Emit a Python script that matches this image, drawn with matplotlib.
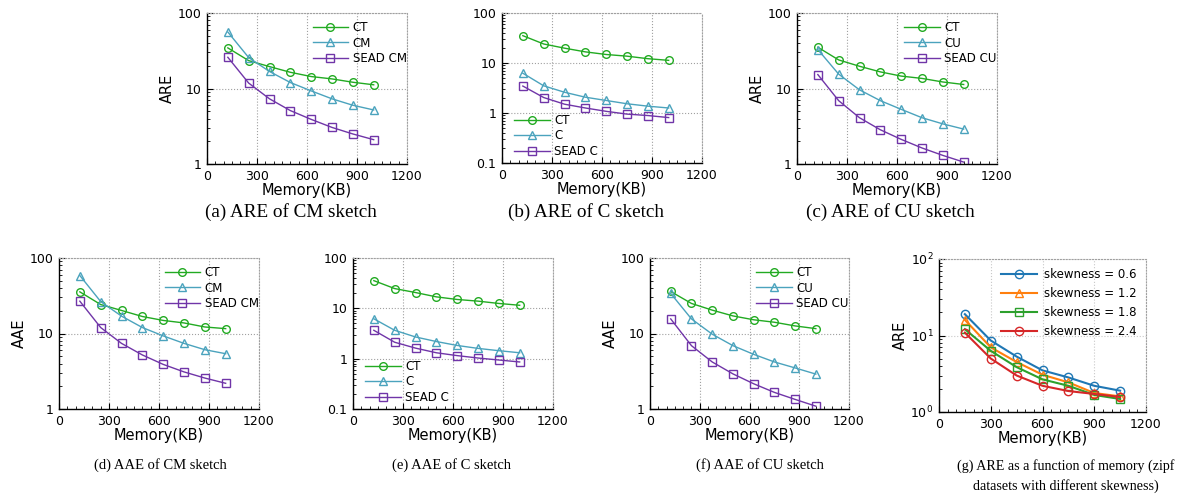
import numpy as np
import matplotlib
matplotlib.use("Agg")
import matplotlib.pyplot as plt
from matplotlib.ticker import MultipleLocator, LogLocator, NullFormatter, FixedLocator

# Datos
mem = [125, 250, 375, 500, 625, 750, 875, 1000]
mem_g = [150, 300, 450, 600, 750, 900, 1050]

are_cm_ct = [34.5, 23.4, 19.5, 16.4, 14.4, 13.4, 12.1, 11.2]
are_cm = [56, 25.7, 16.8, 12.0, 9.3, 7.3, 6.0, 5.2]
are_cm_sead = [25.9, 11.8, 7.3, 5.1, 3.9, 3.05, 2.5, 2.1]

are_c_ct = [35.2, 24, 19.8, 16.7, 14.8, 13.7, 12.2, 11.3]
are_c = [6.25, 3.5, 2.6, 2.07, 1.78, 1.53, 1.37, 1.26]
are_c_sead = [3.46, 2.04, 1.5, 1.26, 1.08, 0.95, 0.89, 0.81]

are_cu_ct = [35.2, 23.9, 19.7, 16.6, 14.6, 13.6, 12.2, 11.3]
are_cu = [32.8, 15.5, 9.6, 6.9, 5.3, 4.1, 3.4, 2.9]
are_cu_sead = [15.3, 6.9, 4.1, 2.84, 2.12, 1.63, 1.3, 1.06]

aae_cm_ct = [35.6, 24.2, 20.2, 16.8, 14.9, 13.8, 12.2, 11.6]
aae_cm = [58.6, 26.5, 17, 12, 9.3, 7.4, 6.1, 5.4]
aae_cm_sead = [26.8, 12, 7.4, 5.2, 3.9, 3.1, 2.57, 2.19]

aae_c_ct = [35.5, 24.7, 20.6, 16.9, 15, 13.9, 12.5, 11.5]
aae_c = [6.2, 3.66, 2.7, 2.19, 1.83, 1.6, 1.44, 1.31]
aae_c_sead = [3.66, 2.12, 1.62, 1.31, 1.15, 1.03, 0.94, 0.86]

aae_cu_ct = [36, 25, 20.4, 17.1, 15.2, 14.1, 12.6, 11.6]
aae_cu = [33.9, 15.6, 9.8, 6.9, 5.3, 4.2, 3.5, 2.9]
aae_cu_sead = [15.6, 6.9, 4.2, 2.92, 2.16, 1.66, 1.34, 1.09]

skew_labels = ["skewness = 0.6", "skewness = 1.2", "skewness = 1.8", "skewness = 2.4"]
skew_06 = [19, 8.6, 5.3, 3.5, 2.83, 2.2, 1.9]
skew_12 = [16, 7.0, 4.5, 3.07, 2.44, 1.77, 1.6]
skew_18 = [12.1, 6.3, 3.86, 2.67, 2.2, 1.67, 1.48]
skew_24 = [10.9, 5.0, 3.0, 2.2, 1.88, 1.72, 1.57]

captions = ["(a) ARE of CM sketch", "(b) ARE of C sketch", "(c) ARE of CU sketch",
            "(d) AAE of CM sketch", "(e) AAE of C sketch", "(f) AAE of CU sketch",
            "(g) ARE as a function of memory (zipf\ndatasets with different skewness)"]

green = "#22aa22"
teal = "#4ba3bd"
purple = "#7035a8"
grid_col = "#a0a0a0"

W, H = 1178, 500
fig = plt.figure(figsize=(W / 100, H / 100), dpi=100)


def px_axes(x0, y0, x1, y1):
    return fig.add_axes([x0 / W, 1 - y1 / H, (x1 - x0) / W, (y1 - y0) / H])


def style(ax, ymin, ymax, ylabel=None):
    ax.set_xlim(0, 1200)
    ax.set_yscale("log")
    ax.set_ylim(ymin, ymax)
    ax.xaxis.set_major_locator(MultipleLocator(300))
    ax.xaxis.set_minor_locator(MultipleLocator(50))
    ax.yaxis.set_minor_locator(LogLocator(base=10, subs=np.arange(2, 10)))
    ax.yaxis.set_minor_formatter(NullFormatter())
    ax.tick_params(which="both", direction="in", top=False, right=False, labelsize=9)
    ax.tick_params(which="major", length=4, width=0.8, pad=4)
    ax.tick_params(which="minor", length=2.5, width=0.6)
    ax.grid(True, which="major", linestyle=":", color=grid_col, linewidth=0.8)
    for s in ["top", "right"]:
        ax.spines[s].set_linestyle(":")
        ax.spines[s].set_color(grid_col)
        ax.spines[s].set_linewidth(0.8)
    for s in ["left", "bottom"]:
        ax.spines[s].set_linewidth(1.0)
    ax.set_xlabel("Memory(KB)", fontsize=10.5, labelpad=0)
    if ylabel:
        ax.set_ylabel(ylabel, fontsize=10.5, labelpad=2)


def panel(ax, ys, labels, ymin, ymax, ylabel, loc):
    mk = ["o", "^", "s"]
    cols = [green, teal, purple]
    for y, lab, m, c in zip(ys, labels, mk, cols):
        ax.plot(mem, y, color=c, marker=m, markersize=5.5, markerfacecolor="none",
                markeredgewidth=1.0, linewidth=1.0, label=lab)
    style(ax, ymin, ymax, ylabel)
    if ymin < 1:
        ax.yaxis.set_major_locator(FixedLocator([0.1, 1, 10, 100]))
        ax.set_yticklabels(["0.1", "1", "10", "100"])
    else:
        ax.yaxis.set_major_locator(FixedLocator([1, 10, 100]))
        ax.set_yticklabels(["1", "10", "100"])
    if loc == "upper right":
        ax.legend(loc="upper right", bbox_to_anchor=(1.04, 1.0), frameon=False,
                  fontsize=8.5, handlelength=3.0, handletextpad=0.4, labelspacing=0.2,
                  borderaxespad=0.3)
    else:
        ax.legend(loc="lower left", bbox_to_anchor=(0.02, -0.02), frameon=False,
                  fontsize=8.5, handlelength=3.0, handletextpad=0.4, labelspacing=0.2,
                  borderaxespad=0.3)


ax_a = px_axes(207, 13, 407, 164)
panel(ax_a, [are_cm_ct, are_cm, are_cm_sead], ["CT", "CM", "SEAD CM"], 1, 100, "ARE", "upper right")
ax_b = px_axes(502, 13, 702, 163)
panel(ax_b, [are_c_ct, are_c, are_c_sead], ["CT", "C", "SEAD C"], 0.1, 100, None, "lower left")
ax_c = px_axes(797, 13, 997, 164)
panel(ax_c, [are_cu_ct, are_cu, are_cu_sead], ["CT", "CU", "SEAD CU"], 1, 100, "ARE", "upper right")

ax_d = px_axes(59, 258, 259, 409)
panel(ax_d, [aae_cm_ct, aae_cm, aae_cm_sead], ["CT", "CM", "SEAD CM"], 1, 100, "AAE", "upper right")
ax_e = px_axes(353, 258, 553, 409)
panel(ax_e, [aae_c_ct, aae_c, aae_c_sead], ["CT", "C", "SEAD C"], 0.1, 100, None, "lower left")
ax_f = px_axes(650, 258, 849, 409)
panel(ax_f, [aae_cu_ct, aae_cu, aae_cu_sead], ["CT", "CU", "SEAD CU"], 1, 100, "AAE", "upper right")

# (g) skewness
ax_g = px_axes(939, 259, 1146, 412)
g_cols = ["#1f77b4", "#ff7f0e", "#2ca02c", "#d62728"]
g_mk = ["o", "^", "s", "o"]
for y, lab, m, c in zip([skew_06, skew_12, skew_18, skew_24], skew_labels, g_mk, g_cols):
    ax_g.plot(mem_g, y, color=c, marker=m, markersize=6, markerfacecolor="none",
              markeredgewidth=1.0, linewidth=1.5, label=lab)
style(ax_g, 1, 100, "ARE")
ax_g.grid(True, which="major", linestyle=":", color="#c8c8c8", linewidth=0.8)
ax_g.yaxis.set_major_locator(FixedLocator([1, 10, 100]))
ax_g.set_yticklabels([r"$10^{0}$", r"$10^{1}$", r"$10^{2}$"])
ax_g.legend(loc="upper right", frameon=False, fontsize=8.5, handlelength=3.0,
            handletextpad=0.6, labelspacing=0.5, borderaxespad=0.4)

# Leyendas de las subfiguras
cap_pos = [(291, 212), (586, 212), (890, 212), (160, 465), (452, 465), (760, 465), (1066, 476)]
cap_size = [13.8, 13.8, 13.8, 10.5, 10.5, 10.5, 10.1]
for (cx, cy), txt, fs in zip(cap_pos, captions, cap_size):
    fig.text(cx / W, 1 - cy / H, txt, ha="center", va="center", fontsize=fs,
             family="Liberation Serif", multialignment="center", linespacing=1.6)

plt.savefig("out.png", dpi=100)
